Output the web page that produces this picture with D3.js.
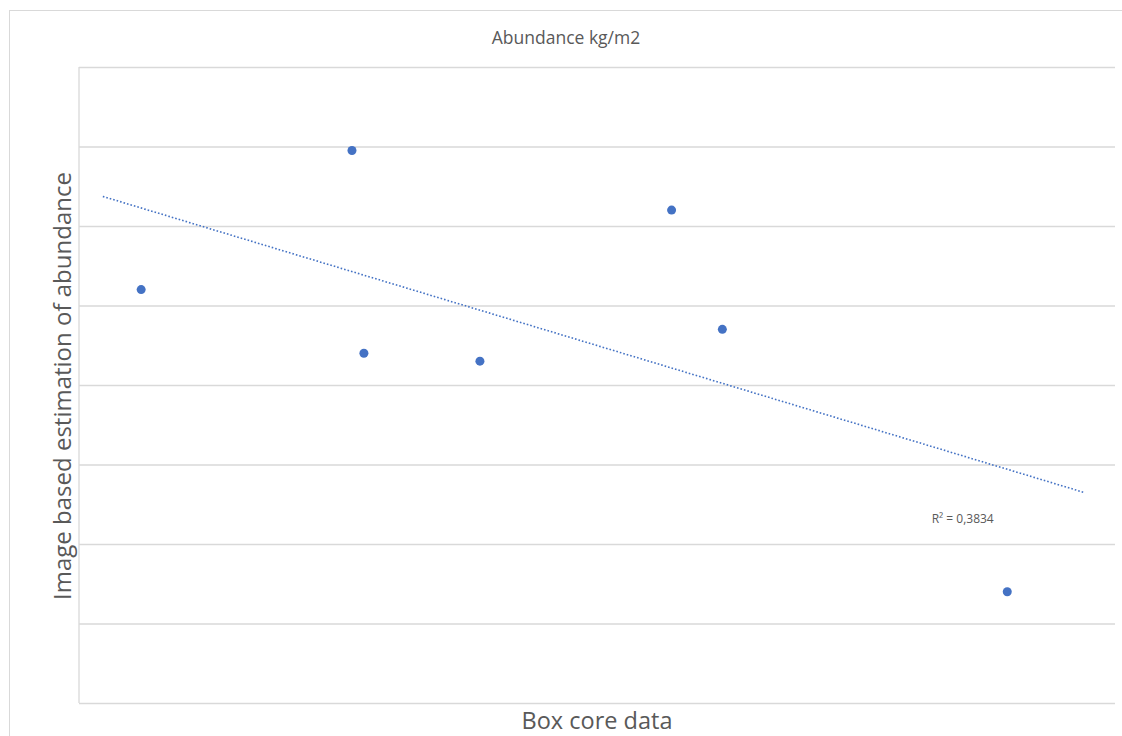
<!DOCTYPE html>
<html>
<head>
<meta charset="utf-8">
<script src="https://cdn.jsdelivr.net/npm/d3@7"></script>
<style>
  body { margin: 0; background: #fff; }
  text { font-family: "Open Sans", "Liberation Sans", sans-serif; }
</style>
</head>
<body>
<svg></svg>
<script>
// Werte (Achsen ohne Beschriftung)
var boxCore = [6.0, 26.35, 27.5, 38.7, 57.2, 62.1, 89.6]
var imageEstimate = [5.2, 6.95, 4.4, 4.3, 6.2, 4.7, 1.4]
var yTicks = [0, 1, 2, 3, 4, 5, 6, 7, 8]
var trendRange = [2.3, 97.1]

var svg = d3.select("svg")
    .attr("width", 1122)
    .attr("height", 736)

// Rahmen der Grafik
svg.append("rect")
    .attr("x", 9.5).attr("y", 10.5)
    .attr("width", 1130).attr("height", 740)
    .attr("fill", "none")
    .attr("stroke", "#d9d9d9")

var margin = {top: 67, left: 79, right: 7, bottom: 33}
var w = 1122 - margin.left - margin.right
var h = 736 - margin.top - margin.bottom

var graph = svg.append("g")
    .attr("transform", `translate(${margin.left}, ${margin.top})`)

var scX = d3.scaleLinear().domain([0, 100]).range([0, w])
var scY = d3.scaleLinear().domain([0, 8]).range([h, 0])

// Gitterlinien
var yAxis = d3.axisLeft(scY).tickValues(yTicks).tickSize(-w).tickFormat("")
graph.append("g").call(yAxis)
    .call(g => g.select(".domain").remove())
    .selectAll("line")
    .attr("stroke", "#d9d9d9")
    .attr("stroke-width", 1.3)

// linke Achse
graph.append("line")
    .attr("x1", 0).attr("x2", 0)
    .attr("y1", 0).attr("y2", h)
    .attr("stroke", "#d9d9d9")
    .attr("stroke-width", 1.3)

// lineare Regression
var mx = d3.mean(boxCore), my = d3.mean(imageEstimate)
var sxy = d3.sum(boxCore, (x, i) => (x - mx) * (imageEstimate[i] - my))
var sxx = d3.sum(boxCore, x => (x - mx) * (x - mx))
var syy = d3.sum(imageEstimate, y => (y - my) * (y - my))
var slope = sxy / sxx
var icpt = my - slope * mx
var r2 = (sxy * sxy) / (sxx * syy)

graph.append("line")
    .attr("x1", scX(trendRange[0])).attr("y1", scY(icpt + slope * trendRange[0]))
    .attr("x2", scX(trendRange[1])).attr("y2", scY(icpt + slope * trendRange[1]))
    .attr("stroke", "#4472c4")
    .attr("stroke-width", 1.6)
    .attr("stroke-dasharray", "1.6,2")

graph.selectAll("circle")
    .data(boxCore).enter().append("circle")
    .attr("cx", d => scX(d))
    .attr("cy", (d, i) => scY(imageEstimate[i]))
    .attr("r", 4.5)
    .attr("fill", "#4472c4")

graph.append("text")
    .attr("x", scX(82.3)).attr("y", scY(2.27))
    .attr("font-size", 12)
    .attr("fill", "#595959")
    .text("R² = " + r2.toFixed(4).replace(".", ","))

// Titel und Achsentitel
svg.append("text")
    .attr("x", 566).attr("y", 44)
    .attr("text-anchor", "middle")
    .attr("font-size", 17.5)
    .attr("fill", "#595959")
    .text("Abundance kg/m2")

svg.append("text")
    .attr("transform", "translate(71, 386) rotate(-90)")
    .attr("text-anchor", "middle")
    .attr("font-size", 24)
    .attr("fill", "#595959")
    .text("Image based estimation of abundance")

svg.append("text")
    .attr("x", 597).attr("y", 729)
    .attr("text-anchor", "middle")
    .attr("font-size", 23.5)
    .attr("fill", "#595959")
    .text("Box core data")
</script>
</body>
</html>
